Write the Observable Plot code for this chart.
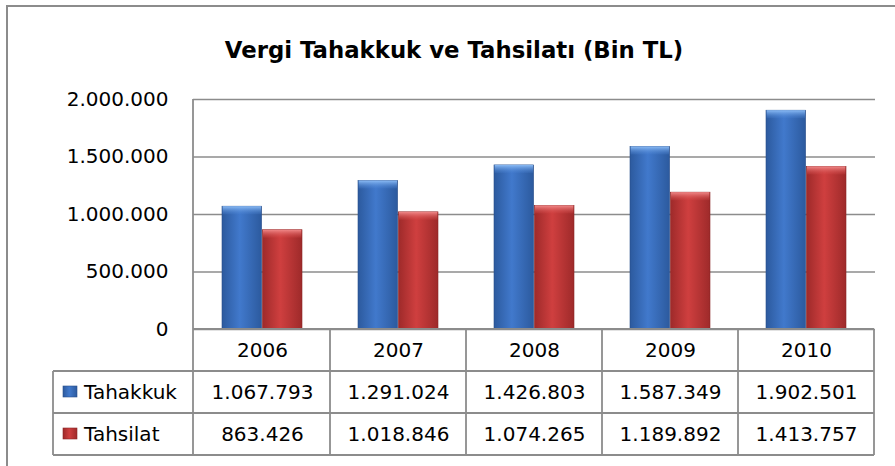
<!DOCTYPE html>
<html><head><meta charset="utf-8">
<script src="https://cdn.jsdelivr.net/npm/d3@7"></script>
<script src="https://cdn.jsdelivr.net/npm/@observablehq/plot@0.6"></script>
<style>
body{margin:0;background:#fff}
svg text{font-family:"DejaVu Sans"}
</style>
</head><body><div id="c"></div>
<script>
const title = "Vergi Tahakkuk ve Tahsilatı (Bin TL)";
const years = ["2006","2007","2008","2009","2010"];
const seriesNames = ["Tahakkuk","Tahsilat"];
const tahakkuk = [1067793,1291024,1426803,1587349,1902501];
const tahsilat = [863426,1018846,1074265,1189892,1413757];
const yTicks = [0,500000,1000000,1500000,2000000];

const fmt = d => d3.format(",")(d).replace(/,/g, ".");
const rowsT = years.map((year, i) => ({year, value: tahakkuk[i]}));
const rowsS = years.map((year, i) => ({year, value: tahsilat[i]}));

const W = 895, H = 466, mL = 193, mR = 20, mT = 99, mB = 137;
const rowH = 42;

const chart = Plot.plot({
  width: W, height: H,
  marginLeft: mL, marginRight: mR, marginTop: mT, marginBottom: mB,
  style: {fontFamily: "DejaVu Sans", fontSize: "20px", background: "#fff", color: "#000", overflow: "visible"},
  x: {type: "band", domain: years, padding: 0, axis: null},
  y: {domain: [0, 2000000], axis: null},
  marks: [
    Plot.ruleY(yTicks, {stroke: "#8c8c8c", strokeWidth: 1.6}),
    Plot.barY(rowsT, {x: "year", y: "value", fill: "url(#gBlue)", stroke: "#2a4f8a", strokeWidth: 0.6, insetLeft: 28, insetRight: 68.4}),
    Plot.barY(rowsS, {x: "year", y: "value", fill: "url(#gRed)", stroke: "#8a2626", strokeWidth: 0.6, insetLeft: 68.4, insetRight: 28}),
    Plot.barY(rowsT, {x: "year", y1: "value", y2: "value", insetBottom: -8, fill: "url(#gBlueTop)", insetLeft: 28.6, insetRight: 69}),
    Plot.barY(rowsS, {x: "year", y1: "value", y2: "value", insetBottom: -8, fill: "url(#gRedTop)", insetLeft: 69, insetRight: 28.6}),
    Plot.text(yTicks, {y: d => d, frameAnchor: "left", dx: -25, textAnchor: "end", lineAnchor: "middle", text: fmt, fill: "#000"}),
    Plot.text(years, {x: d => d, frameAnchor: "bottom", lineAnchor: "middle", dy: rowH / 2, text: d => d, fill: "#000"}),
    Plot.text(rowsT, {x: "year", frameAnchor: "bottom", lineAnchor: "middle", dy: rowH * 1.5, text: d => fmt(d.value), fill: "#000"}),
    Plot.text(rowsS, {x: "year", frameAnchor: "bottom", lineAnchor: "middle", dy: rowH * 2.5, text: d => fmt(d.value), fill: "#000"})
  ]
});
document.getElementById("c").appendChild(chart);

const svg = d3.select(chart);
const defs = svg.insert("defs", ":first-child");
function grad(id, edge, mid) {
  const g = defs.append("linearGradient").attr("id", id).attr("x1", 0).attr("x2", 1).attr("y1", 0).attr("y2", 0);
  g.append("stop").attr("offset", "0%").attr("stop-color", edge);
  g.append("stop").attr("offset", "45%").attr("stop-color", mid);
  g.append("stop").attr("offset", "100%").attr("stop-color", edge);
}
function vgrad(id, top, bottom) {
  const g = defs.append("linearGradient").attr("id", id).attr("x1", 0).attr("x2", 0).attr("y1", 0).attr("y2", 1);
  g.append("stop").attr("offset", "0%").attr("stop-color", top);
  g.append("stop").attr("offset", "100%").attr("stop-color", bottom).attr("stop-opacity", 0.2);
}
grad("gBlue", "#2c5a9e", "#4179cc");
grad("gRed", "#9e2a2a", "#cf3f3f");
vgrad("gBlueTop", "#8cbcf5", "#4a82d2");
vgrad("gRedTop", "#f08a8a", "#d44848");

const sx = chart.scale("x"), sy = chart.scale("y");
const y0 = sy.apply(0), yTop = sy.apply(2000000);
const edges = years.map(y => sx.apply(y)).concat([sx.apply(years[years.length - 1]) + sx.bandwidth]);
const xLeft = mL - 140, xRight = edges[edges.length - 1];
const lineColor = "#8c8c8c";
const g = svg.append("g").attr("stroke", lineColor).attr("stroke-width", 1.8);
g.append("line").attr("x1", mL).attr("x2", mL).attr("y1", yTop).attr("y2", y0 + 3 * rowH);
edges.slice(1).forEach(x => g.append("line").attr("x1", x).attr("x2", x).attr("y1", y0).attr("y2", y0 + 3 * rowH));
g.append("line").attr("x1", xLeft).attr("x2", xLeft).attr("y1", y0 + rowH).attr("y2", y0 + 3 * rowH);
g.append("line").attr("x1", mL).attr("x2", xRight).attr("y1", y0).attr("y2", y0);
[1, 2, 3].forEach(k => g.append("line").attr("x1", xLeft).attr("x2", xRight).attr("y1", y0 + k * rowH).attr("y2", y0 + k * rowH));

// legend column
seriesNames.forEach((name, i) => {
  const cy = y0 + rowH * (1.5 + i);
  svg.append("rect").attr("x", xLeft + 10).attr("y", cy - 6).attr("width", 14).attr("height", 11)
    .attr("fill", i === 0 ? "url(#gBlue)" : "url(#gRed)").attr("stroke", i === 0 ? "#2a4f8a" : "#8a2626").attr("stroke-width", 0.6);
  svg.append("text").attr("x", xLeft + 31).attr("y", cy).attr("dy", "0.35em").attr("text-anchor", "start")
    .attr("font-size", 20).attr("fill", "#000").text(name);
});

// title
svg.append("text").attr("x", 454).attr("y", 58).attr("text-anchor", "middle")
  .attr("font-size", 22.8).attr("font-weight", "bold").attr("fill", "#000").text(title);

// outer chart frame
svg.append("path").attr("d", `M7,${H} V6 H${W}`).attr("fill", "none").attr("stroke", "#8c8c8c").attr("stroke-width", 2);
</script>
</body></html>
